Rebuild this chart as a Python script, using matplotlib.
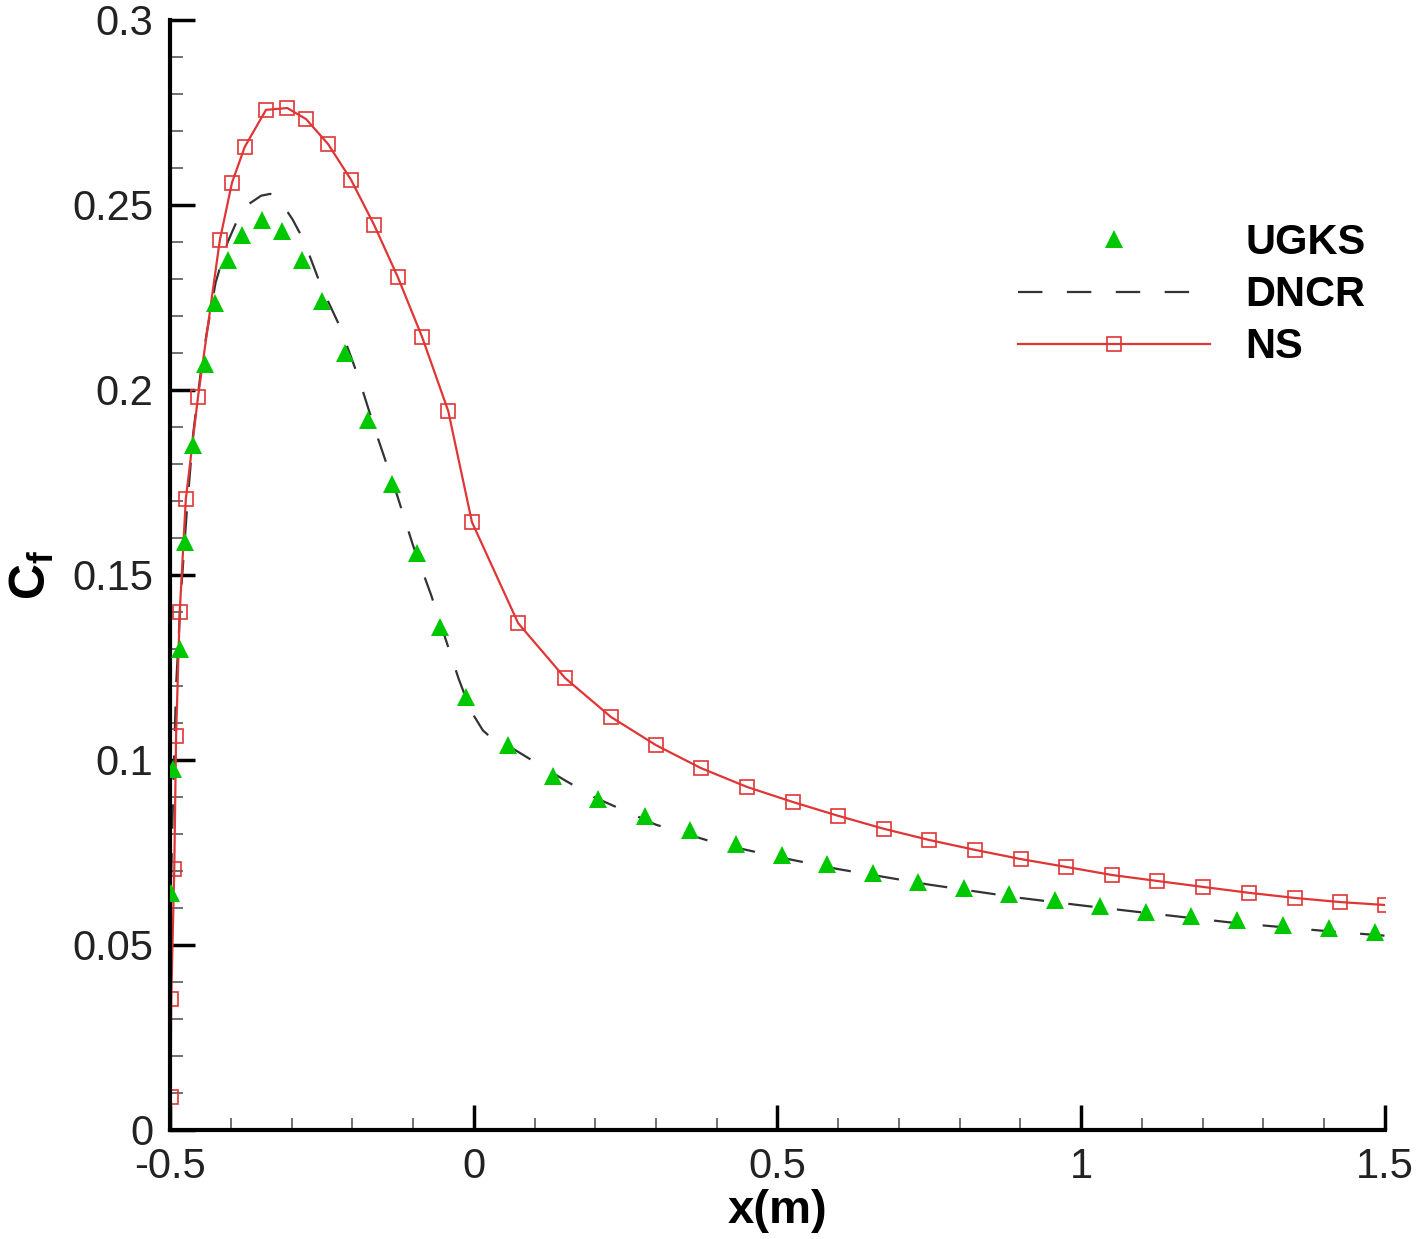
import matplotlib
matplotlib.use('Agg')
from matplotlib import pyplot as plt
from matplotlib.ticker import MultipleLocator

# UGKS (triangles)
ugks_x = [-0.499, -0.495, -0.484, -0.475, -0.462, -0.442, -0.426, -0.405, -0.381, -0.349,
          -0.316, -0.283, -0.250, -0.212, -0.174, -0.135, -0.093, -0.056, -0.013, 0.056,
          0.130, 0.205, 0.282, 0.356, 0.432, 0.507, 0.581, 0.657, 0.731, 0.807,
          0.881, 0.957, 1.031, 1.107, 1.181, 1.256, 1.332, 1.408, 1.484]
ugks_y = [0.064, 0.0976, 0.130, 0.159, 0.185, 0.207, 0.2235, 0.235, 0.242, 0.246,
          0.243, 0.235, 0.224, 0.210, 0.192, 0.1746, 0.156, 0.136, 0.117, 0.104,
          0.0957, 0.0895, 0.0849, 0.081, 0.0773, 0.0743, 0.0719, 0.0695, 0.067, 0.0654,
          0.0638, 0.0622, 0.0605, 0.059, 0.0578, 0.0568, 0.0554, 0.0546, 0.0535]

# DNCR (dashed)
dncr_x = [-0.5, -0.495, -0.49, -0.482, -0.472, -0.462, -0.45, -0.44, -0.425, -0.405,
          -0.385, -0.368, -0.35, -0.335, -0.318, -0.298, -0.28, -0.25, -0.22, -0.19,
          -0.16, -0.13, -0.10, -0.07, -0.045, -0.025, -0.01, 0.0, 0.015, 0.03,
          0.06, 0.1, 0.15, 0.2, 0.3, 0.4, 0.5, 0.6, 0.75, 0.9,
          1.0, 1.1, 1.25, 1.4, 1.5]
dncr_y = [0.055, 0.09, 0.12, 0.145, 0.168, 0.188, 0.204, 0.215, 0.229, 0.240,
          0.2475, 0.2505, 0.2525, 0.253, 0.251, 0.246, 0.2405, 0.2275, 0.217, 0.2035,
          0.188, 0.1735, 0.158, 0.1445, 0.132, 0.122, 0.1155, 0.112, 0.108, 0.1058,
          0.1035, 0.0995, 0.0945, 0.0898, 0.0825, 0.0775, 0.0738, 0.0705, 0.0663, 0.0627,
          0.0607, 0.0588, 0.056, 0.0538, 0.0525]

# NS (line + hollow squares)
ns_x = [-0.499, -0.498, -0.493, -0.490, -0.484, -0.474, -0.454, -0.418, -0.398, -0.377,
        -0.342, -0.307, -0.276, -0.240, -0.202, -0.164, -0.125, -0.085, -0.042, -0.003,
        0.073, 0.150, 0.226, 0.300, 0.374, 0.450, 0.526, 0.600, 0.675, 0.749,
        0.825, 0.901, 0.975, 1.051, 1.125, 1.200, 1.276, 1.352, 1.426, 1.500]
ns_y = [0.0090, 0.0355, 0.0705, 0.1065, 0.140, 0.1705, 0.198, 0.2405, 0.256, 0.2657,
        0.2757, 0.2762, 0.2732, 0.2665, 0.2568, 0.2446, 0.2305, 0.2143, 0.1943, 0.1643,
        0.137, 0.1222, 0.1116, 0.104, 0.0978, 0.0927, 0.0886, 0.0849, 0.0814, 0.0784,
        0.0757, 0.0732, 0.0711, 0.0689, 0.0673, 0.0657, 0.0641, 0.0627, 0.0616, 0.0608]

plt.rcParams['font.family'] = ['Liberation Sans', 'DejaVu Sans']
plt.rcParams['mathtext.fontset'] = 'custom'
plt.rcParams['mathtext.rm'] = 'Liberation Sans'
plt.rcParams['mathtext.bf'] = 'Liberation Sans:bold'

fig = plt.figure(figsize=(14.18, 12.39), dpi=100)
ax = fig.add_axes([0.1199, 0.0880, 0.8568, 0.8959])

ax.plot(ugks_x, ugks_y, linestyle='none', marker='^', markersize=13,
        color='#00c800', markeredgewidth=0, label='UGKS', zorder=3)
ax.plot(dncr_x, dncr_y, color='#333333', linewidth=1.6, dashes=(11, 11), label='DNCR', zorder=2)
ax.plot(ns_x, ns_y, color='#e03535', linewidth=1.6, marker='s', markersize=10,
        markerfacecolor='none', markeredgecolor='#e03535', markeredgewidth=1.2,
        label='NS', zorder=2)

ax.set_xlim(-0.5, 1.5)
ax.set_ylim(0, 0.3)
ax.xaxis.set_major_locator(MultipleLocator(0.5))
ax.xaxis.set_minor_locator(MultipleLocator(0.1))
ax.yaxis.set_major_locator(MultipleLocator(0.05))
ax.yaxis.set_minor_locator(MultipleLocator(0.01))
ax.set_xticks([-0.5, 0, 0.5, 1, 1.5], ['-0.5', '0', '0.5', '1', '1.5'])
ax.set_yticks([0, 0.05, 0.1, 0.15, 0.2, 0.25, 0.3], ['0', '0.05', '0.1', '0.15', '0.2', '0.25', '0.3'])

for s in ['top', 'right']:
    ax.spines[s].set_visible(False)
for s in ['left', 'bottom']:
    ax.spines[s].set_linewidth(3)
ax.tick_params(which='major', direction='in', length=18, width=2.5, labelsize=30,
               labelcolor='#222222', pad=12)
ax.tick_params(which='minor', direction='in', length=9, width=1.3, color='#666666')

ax.set_xlabel('x(m)', fontsize=34, fontweight='bold', labelpad=2)
ax.set_ylabel(r'$\mathbf{C_f}$', fontsize=36, labelpad=12)

leg = ax.legend(loc='upper left', bbox_to_anchor=(0.698, 0.817), frameon=False,
                prop={'weight': 'bold', 'size': 30}, numpoints=1,
                handlelength=4.6, handletextpad=0.85, labelspacing=0.29,
                borderpad=0, borderaxespad=0)

plt.savefig('out.png', dpi=100)
